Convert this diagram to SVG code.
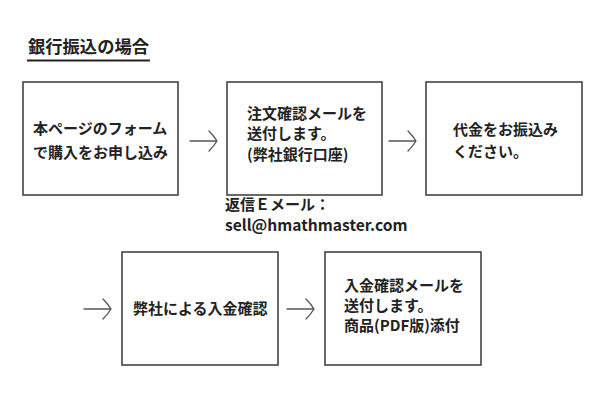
<svg xmlns="http://www.w3.org/2000/svg" width="600" height="400" viewBox="0 0 600 400">
<defs>
<style>
.box{fill:#fff;stroke:#444;stroke-width:1.6}
.t{font-family:"Noto Sans CJK JP","Noto Sans",sans-serif;font-size:15px;font-weight:700;fill:#222}
.arr{fill:none;stroke:#555;stroke-width:1.3;stroke-linecap:round;stroke-linejoin:round}
</style>
</defs>
<rect width="600" height="400" fill="#fff"/>
<g id="title">
<text x="28" y="53" class="t" style="font-size:17.3px">銀行振込の場合</text>
<line x1="27" y1="60.5" x2="150" y2="60.5" stroke="#222" stroke-width="2"/>
</g>
<g id="node1">
<rect class="box" x="23" y="82" width="155" height="113"/>
<text class="t" x="33" y="134">本ページのフォーム</text>
<text class="t" x="33" y="158">で購入をお申し込み</text>
</g>
<g id="node2">
<rect class="box" x="227" y="82" width="155" height="113"/>
<text class="t" x="247" y="119">注文確認メールを</text>
<text class="t" x="247" y="139">送付します。</text>
<text class="t" x="247" y="160">(弊社銀行口座)</text>
</g>
<g id="note2">
<text class="t" x="225" y="210">返信Ｅメール：</text>
<text class="t" x="225" y="231" style="font-size:15.6px">sell@hmathmaster.com</text>
</g>
<g id="node3">
<rect class="box" x="426" y="82" width="156" height="113"/>
<text class="t" x="453" y="135">代金をお振込み</text>
<text class="t" x="453" y="157">ください。</text>
</g>
<g id="node4">
<rect class="box" x="122" y="252" width="156" height="113"/>
<text class="t" x="133" y="314">弊社による入金確認</text>
</g>
<g id="node5">
<rect class="box" x="325" y="252" width="156" height="113"/>
<text class="t" x="344" y="291">入金確認メールを</text>
<text class="t" x="344" y="311">送付します。</text>
<text class="t" x="344" y="331">商品(PDF版)添付</text>
</g>
<g id="connectors">
<path class="arr" d="M190 141 H217 M209 131 Q214 136 217 141 Q214 146 209 151"/>
<path class="arr" d="M389 141 H416 M408 131 Q413 136 416 141 Q413 146 408 151"/>
<path class="arr" d="M84 309 H111 M103 299 Q108 304 111 309 Q108 314 103 319"/>
<path class="arr" d="M287 309 H314 M306 299 Q311 304 314 309 Q311 314 306 319"/>
</g>
</svg>
